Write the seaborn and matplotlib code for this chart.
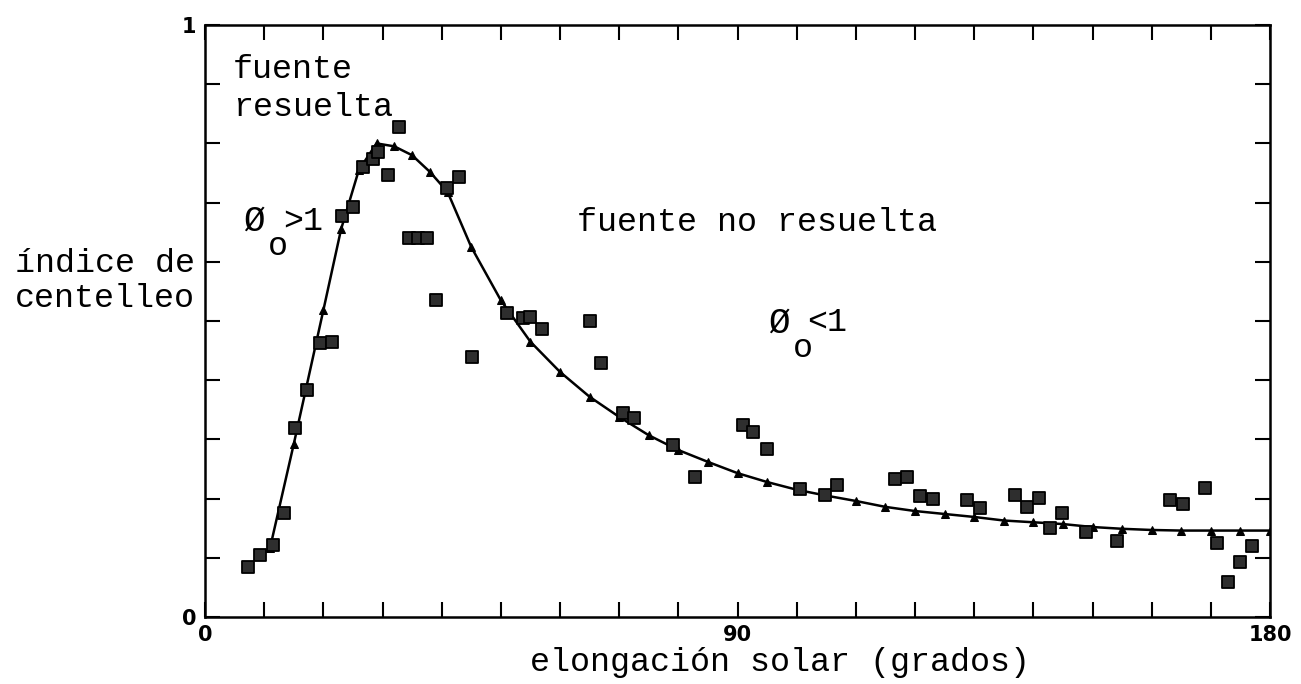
import numpy as np
import pandas as pd
import matplotlib
matplotlib.use("Agg")
import matplotlib.pyplot as plt
import seaborn as sns

# ---- data ----
curve_x = [11, 15, 20, 23, 26, 29, 32, 35, 38, 41, 45, 50, 55, 60, 65, 70, 75, 80, 85, 90,
           95, 100, 105, 110, 115, 120, 125, 130, 135, 140, 145, 150, 155, 160, 165, 170, 175, 180]
curve_y = [0.117, 0.292, 0.518, 0.655, 0.755, 0.800, 0.795, 0.780, 0.752, 0.718, 0.625, 0.535,
           0.465, 0.414, 0.372, 0.338, 0.307, 0.282, 0.262, 0.243, 0.228, 0.215, 0.205, 0.196,
           0.186, 0.179, 0.174, 0.169, 0.163, 0.160, 0.157, 0.152, 0.149, 0.147, 0.146, 0.146,
           0.146, 0.146]

obs_x = [7.3, 9.3, 11.5, 13.4, 15.2, 17.2, 19.4, 21.4, 23.2, 25.0, 26.7, 28.4, 29.2, 30.9, 32.8,
         34.5, 36.0, 37.5, 39.0, 40.9, 43.0, 45.1, 51.0, 53.7, 54.9, 57.0, 65.1, 67.0, 70.6, 72.5,
         79.1, 82.8, 90.9, 92.6, 95.0, 100.6, 104.8, 106.8, 116.6, 118.6, 120.8, 123.0, 128.8,
         131.0, 136.9, 138.9, 141.0, 142.8, 144.8, 148.9, 154.1, 163.1, 165.3, 169.0, 171.0,
         172.9, 174.9, 176.9]
obs_y = [0.085, 0.105, 0.122, 0.175, 0.320, 0.383, 0.462, 0.465, 0.677, 0.692, 0.760, 0.773, 0.786,
         0.747, 0.828, 0.641, 0.641, 0.641, 0.536, 0.724, 0.743, 0.439, 0.514, 0.505, 0.507, 0.486,
         0.500, 0.429, 0.345, 0.336, 0.291, 0.236, 0.324, 0.313, 0.284, 0.216, 0.206, 0.223, 0.233,
         0.236, 0.204, 0.199, 0.198, 0.184, 0.206, 0.186, 0.201, 0.150, 0.176, 0.144, 0.128, 0.198,
         0.191, 0.218, 0.125, 0.059, 0.093, 0.120]

x_ticks = list(range(0, 181, 10))
x_tick_labels = {0: "0", 90: "90", 180: "180"}
y_ticks = [round(0.1 * i, 1) for i in range(11)]
y_tick_labels = {0.0: "0", 1.0: "1"}

# ---- figure ----
sns.set_theme(style="white")
plt.rcParams["font.family"] = ["Liberation Mono", "DejaVu Sans"]
MONO = ["Liberation Mono", "DejaVu Sans Mono"]
TXT = 24

fig = plt.figure(figsize=(13.01, 6.84), dpi=100)
ax = fig.add_axes([205 / 1301, 1 - 617 / 684, (1270 - 205) / 1301, (617 - 25) / 684])

curve = pd.DataFrame({"x": curve_x, "y": curve_y})
obs = pd.DataFrame({"x": obs_x, "y": obs_y})

sns.lineplot(data=curve, x="x", y="y", ax=ax, color="black", linewidth=1.8, sort=False,
             marker="^", markersize=6, markeredgecolor="black", markerfacecolor="black",
             zorder=2)
sns.scatterplot(data=obs, x="x", y="y", ax=ax, marker="s", s=70, color="#2e2e2e",
                edgecolor="black", linewidth=1.3, zorder=3)

ax.set_xlim(0, 180)
ax.set_ylim(0, 1)
ax.set_xlabel("")
ax.set_ylabel("")

ax.set_xticks(x_ticks)
ax.set_xticklabels([x_tick_labels.get(t, "") for t in x_ticks])
ax.set_yticks(y_ticks)
ax.set_yticklabels([y_tick_labels.get(t, "") for t in y_ticks])
ax.tick_params(axis="both", which="major", direction="in", length=11, width=1.5,
               color="black", top=True, right=True, bottom=True, left=True,
               labelsize=15, labelcolor="black", pad=6)
for lab in ax.get_xticklabels() + ax.get_yticklabels():
    lab.set_family(["DejaVu Sans"])
    lab.set_fontsize(15)
    lab.set_fontweight("bold")

for sp in ax.spines.values():
    sp.set_visible(True)
    sp.set_color("black")
    sp.set_linewidth(1.8)

# ---- annotations ----
ax.text(4.7, 0.924, "fuente", family=MONO, fontsize=TXT, va="center", ha="left", color="black")
ax.text(4.7, 0.860, "resuelta", family=MONO, fontsize=TXT, va="center", ha="left", color="black")
ax.text(62.9, 0.667, "fuente no resuelta", family=MONO, fontsize=TXT, va="center", ha="left",
        color="black")

# phi_o > 1
ax.text(6.4, 0.668, "Ø", family=MONO, fontsize=TXT + 2, va="center", ha="left", color="black")
ax.text(10.6, 0.626, "o", family=MONO, fontsize=TXT, va="center", ha="left", color="black")
ax.text(13.2, 0.668, ">1", family=MONO, fontsize=TXT, va="center", ha="left", color="black")

# phi_o < 1
ax.text(95.2, 0.497, "Ø", family=MONO, fontsize=TXT + 2, va="center", ha="left", color="black")
ax.text(99.4, 0.453, "o", family=MONO, fontsize=TXT, va="center", ha="left", color="black")
ax.text(101.8, 0.497, "<1", family=MONO, fontsize=TXT, va="center", ha="left", color="black")

# axis titles
fig.text(15 / 1301, 1 - 281 / 684, "índice de\ncentelleo", family=MONO, fontsize=TXT,
         ha="left", va="center", linespacing=1.15, color="black")
fig.text(780 / 1301, 1 - 663 / 684, "elongación solar (grados)", family=MONO, fontsize=TXT,
         ha="center", va="center", color="black")

fig.savefig("out.png", dpi=100, facecolor="white")
